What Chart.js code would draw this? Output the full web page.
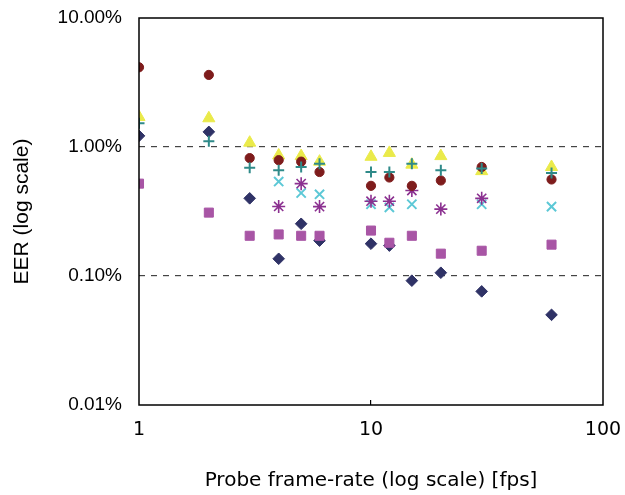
<!DOCTYPE html>
<html>
<head>
<meta charset="utf-8">
<script src="https://cdn.jsdelivr.net/npm/chart.js@4/dist/chart.umd.min.js"></script>
<style>
  html, body { margin: 0; padding: 0; background: #fff; }
  #wrap { width: 625px; height: 495px; }
</style>
</head>
<body>
<div id="wrap"><canvas id="graph" width="625" height="495"></canvas></div>
<script>
/* ===============================
   DATA – EER (%) per probe frame-rate
   =============================== */
const fps = [1, 2, 3, 4, 5, 6, 10, 12, 15, 20, 30, 60];

const diamondEer  = [1.22, 1.31, 0.40, 0.136, 0.254, 0.188, 0.178, 0.172, 0.092, 0.106, 0.076, 0.050];
const squareEer   = [0.52, 0.31, 0.205, 0.21, 0.205, 0.205, 0.225, 0.181, 0.205, 0.149, 0.157, 0.175];
const triangleEer = [1.71, 1.67, 1.08, 0.86, 0.85, 0.77, 0.84, 0.90, 0.73, 0.85, 0.65, 0.70];
const crossEer    = [null, null, null, 0.54, 0.44, 0.43, 0.36, 0.34, 0.36, null, 0.36, 0.345];
const starEer     = [null, null, null, 0.346, 0.52, 0.345, 0.38, 0.38, 0.46, 0.33, 0.40, null];
const circleEer   = [4.15, 3.62, 0.82, 0.79, 0.77, 0.64, 0.50, 0.58, 0.50, 0.55, 0.70, 0.56];
const plusEer     = [1.53, 1.11, 0.69, 0.66, 0.70, 0.74, 0.64, 0.64, 0.74, 0.66, 0.68, 0.63];

const xTicks = [1, 10, 100];
const yTicks = [0.01, 0.1, 1, 10];

/* ===============================
   HELPERS
   =============================== */
function toPoints(values) {
  return fps
    .map((f, i) => ({ x: f, y: values[i] }))
    .filter(p => p.y !== null);
}

function series(values, style, color, radius, width) {
  return {
    data: toPoints(values),
    pointStyle: style,
    pointRadius: radius,
    pointHoverRadius: radius,
    pointBackgroundColor: color,
    pointBorderColor: color,
    pointBorderWidth: width,
    showLine: false
  };
}

// solid frame around the plot area
const frame = {
  id: "frame",
  afterDatasetsDraw(c) {
    const a = c.chartArea;
    const ctx = c.ctx;
    ctx.save();
    ctx.strokeStyle = "#000";
    ctx.lineWidth = 1.5;
    ctx.strokeRect(a.left, a.top, a.right - a.left, a.bottom - a.top);
    ctx.restore();
  }
};

/* ===============================
   GRAPH
   =============================== */
new Chart(document.getElementById("graph"), {
  type: "scatter",
  data: {
    datasets: [
      series(plusEer, "cross", "#2f8a89", 5.5, 2),
      series(circleEer, "circle", "#7e1c1c", 4.6, 1),
      series(starEer, "star", "#8b3090", 6.5, 1.6),
      series(crossEer, "crossRot", "#5cc8d6", 6.5, 2),
      series(triangleEer, "triangle", "#eaea4a", 7, 1),
      series(squareEer, "rect", "#a855a5", 6.4, 1),
      series(diamondEer, "rectRot", "#2f3266", 5.8, 1)
    ]
  },
  options: {
    responsive: false,
    animation: false,
    layout: { padding: { left: 0, right: 22, top: 18, bottom: 0 } },
    plugins: {
      legend: { display: false },
      tooltip: { enabled: false }
    },
    scales: {
      x: {
        type: "logarithmic",
        min: 1,
        max: 100,
        afterBuildTicks: s => { s.ticks = xTicks.map(v => ({ value: v })); },
        afterFit: s => { s.height = 90; s.paddingLeft = 0; s.paddingRight = 0; },
        grid: {
          drawOnChartArea: false,
          drawTicks: true,
          tickLength: -5,
          lineWidth: 1.2,
          color: ctx => (ctx.tick && ctx.tick.value === 10) ? "#000" : "rgba(0,0,0,0)"
        },
        border: { display: false },
        ticks: {
          padding: 19,
          color: "#000",
          font: { family: "'DejaVu Sans'", size: 19 },
          callback: v => String(v),
          maxRotation: 0
        },
        title: {
          display: true,
          text: "Probe frame-rate (log scale) [fps]",
          color: "#000",
          font: { family: "'DejaVu Sans'", size: 20 },
          padding: { top: 0, bottom: 2 }
        }
      },
      y: {
        type: "logarithmic",
        min: 0.01,
        max: 10,
        afterBuildTicks: s => { s.ticks = yTicks.map(v => ({ value: v })); },
        afterFit: s => { s.width = 139; s.paddingTop = 0; s.paddingBottom = 0; },
        grid: {
          drawTicks: false,
          lineWidth: 1.2,
          color: ctx => (ctx.tick && (ctx.tick.value === 0.1 || ctx.tick.value === 1)) ? "#444" : "rgba(0,0,0,0)"
        },
        border: { display: false, dash: [6, 6] },
        ticks: {
          padding: 17,
          color: "#000",
          font: { family: "'Liberation Sans', Arial", size: 19 },
          callback: v => Number(v).toFixed(2) + "%"
        },
        title: {
          display: true,
          text: "EER (log scale)",
          color: "#000",
          font: { family: "'Liberation Sans', Arial", size: 21 },
          padding: { top: 10, bottom: 0 }
        }
      }
    }
  },
  plugins: [frame]
});
</script>
</body>
</html>
